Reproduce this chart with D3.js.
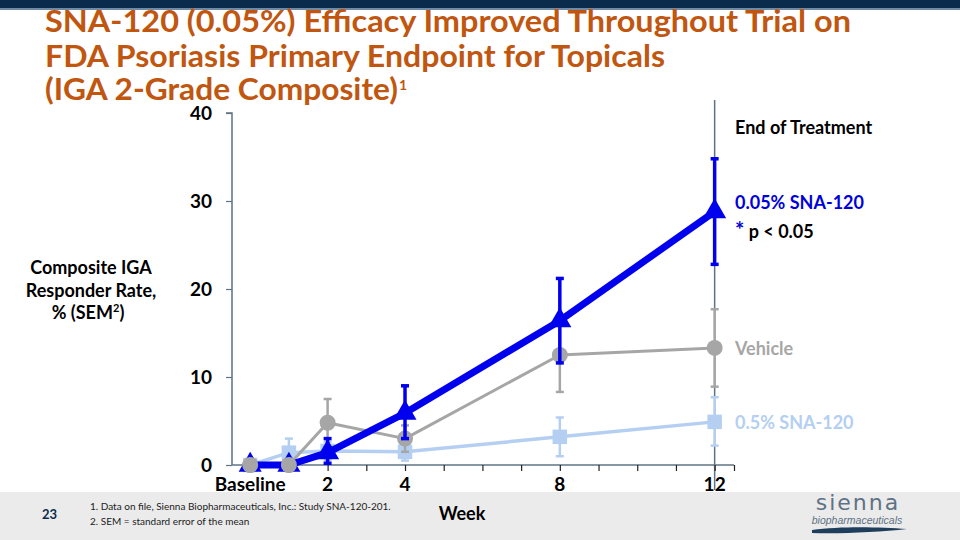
<!DOCTYPE html>
<html><head><meta charset="utf-8">
<script src="https://cdn.jsdelivr.net/npm/d3@7"></script>
<style>body{margin:0;background:#fff}svg{display:block}</style>
</head><body>
<svg id="c" width="960" height="540"></svg>
<script>
const weeks = [0, 1, 2, 4, 8, 12];
const xTickLabels = [{w:0,t:"Baseline"},{w:2,t:"2"},{w:4,t:"4"},{w:8,t:"8"},{w:12,t:"12"}];
const yTicks = [0, 10, 20, 30, 40];
const sna005 = [0, 0, 1.4, 5.9, 16.4, 28.8];
const sna005Hi = [0, 0, 3.0, 9.0, 21.2, 34.8];
const sna005Lo = [0, 0, 0.2, 3.0, 11.6, 22.8];
const vehicle = [0, 0, 4.8, 3.0, 12.5, 13.3];
const vehicleHi = [0, 0, 7.5, 4.5, 16.7, 17.7];
const vehicleLo = [0, 0, 2.1, 1.5, 8.3, 8.9];
const sna05 = [0, 1.4, 1.6, 1.5, 3.2, 4.9];
const sna05Hi = [0, 3.0, 2.6, 2.5, 5.4, 7.7];
const sna05Lo = [0, 0, 0.6, 0.5, 1.0, 2.2];

const svg = d3.select("#c");
const F = "'Lato','Open Sans',sans-serif";

svg.append("rect").attr("x",0).attr("y",0).attr("width",960).attr("height",8).attr("fill","#0b2b4c");
svg.append("rect").attr("x",0).attr("y",8).attr("width",960).attr("height",2).attr("fill","#6f8aa5");
svg.append("rect").attr("x",0).attr("y",492).attr("width",960).attr("height",48).attr("fill","#ebebeb");

const titleLines = [
  {t:"SNA-120 (0.05%) Efficacy Improved Throughout Trial on", y:32, w:806},
  {t:"FDA Psoriasis Primary Endpoint for Topicals", y:67, w:620},
  {t:"(IGA 2-Grade Composite)", y:100, w:353}
];
titleLines.forEach(l=>{
  svg.append("text").attr("x",45).attr("y",l.y).attr("font-family",F).attr("font-weight",700)
    .attr("font-size",30).attr("fill","#c0560f").attr("textLength",l.w).attr("lengthAdjust","spacingAndGlyphs").text(l.t);
});
svg.append("text").attr("x",399).attr("y",90).attr("font-family",F).attr("font-weight",700)
  .attr("font-size",14).attr("fill","#c0560f").text("1");

const x = d3.scaleLinear().domain([-0.47, 12.5]).range([232, 734]);
const y = d3.scaleLinear().domain([0, 40]).range([465, 113]);
const axisCol = "#5f7385";

svg.append("line").attr("x1",x(12)).attr("x2",x(12)).attr("y1",100).attr("y2",490)
  .attr("stroke",axisCol).attr("stroke-width",1.5);

const ya = svg.append("g").attr("transform","translate(232,0)")
  .call(d3.axisLeft(y).tickValues(yTicks).tickSize(6).tickPadding(14));
ya.select(".domain").attr("stroke",axisCol).attr("stroke-width",1.5).attr("d","M-6,113H0V465");
ya.selectAll(".tick line").attr("stroke",axisCol).attr("stroke-width",1.2);
ya.selectAll(".tick text").attr("font-family",F).attr("font-weight",700).attr("font-size",19).attr("fill","#000");

const xa = svg.append("g").attr("transform","translate(0,465)")
  .call(d3.axisBottom(x).tickValues(d3.range(0,13).concat([12.5])).tickSize(6).tickFormat(""));
xa.select(".domain").attr("stroke",axisCol).attr("stroke-width",1.5).attr("d","M232,0H734");
xa.selectAll(".tick line").attr("stroke","#222").attr("stroke-width",1.2);
svg.append("g").selectAll("text").data(xTickLabels).join("text")
  .attr("x",d=>x(d.w)).attr("y",491).attr("text-anchor","middle")
  .attr("font-family",F).attr("font-weight",700).attr("font-size",19).attr("fill","#000").text(d=>d.t);

const yl = svg.append("text").attr("font-family",F).attr("font-weight",700).attr("font-size",18).attr("fill","#000").attr("text-anchor","middle");
yl.append("tspan").attr("x",91).attr("y",274).text("Composite IGA");
yl.append("tspan").attr("x",91).attr("y",297).text("Responder Rate,");
const t3 = yl.append("tspan").attr("x",88).attr("y",319);
t3.text("% (SEM");
yl.append("tspan").attr("dy",-7).attr("font-size",11).text("2");
yl.append("tspan").attr("dy",7).text(")");

const series = [
  {v:vehicle, hi:vehicleHi, lo:vehicleLo, col:"#a6a6a6", lw:3, ew:2.5, m:"circle"},
  {v:sna05, hi:sna05Hi, lo:sna05Lo, col:"#b4cff1", lw:3.5, ew:2.5, m:"square"},
  {v:sna005, hi:sna005Hi, lo:sna005Lo, col:"#0000ee", lw:7, ew:3.5, m:"triangle"}
];
const order = [series[1], series[0], series[2]];
order.forEach(s=>{
  const g = svg.append("g");
  weeks.forEach((w,i)=>{
    if (s.hi[i]===s.lo[i]) return;
    g.append("line").attr("x1",x(w)).attr("x2",x(w)).attr("y1",y(s.hi[i])).attr("y2",y(s.lo[i]))
      .attr("stroke",s.col).attr("stroke-width",s.ew);
    [s.hi[i], s.lo[i]].forEach(v=>{
      g.append("line").attr("x1",x(w)-4).attr("x2",x(w)+4).attr("y1",y(v)).attr("y2",y(v))
        .attr("stroke",s.col).attr("stroke-width",s.ew);
    });
  });
  g.append("path").datum(weeks.map((w,i)=>[w,s.v[i]]))
    .attr("d",d3.line().x(d=>x(d[0])).y(d=>y(d[1])))
    .attr("fill","none").attr("stroke",s.col).attr("stroke-width",s.lw).attr("stroke-linejoin","round");
  const sym = s.m==="circle"?d3.symbolCircle:s.m==="square"?d3.symbolSquare:d3.symbolTriangle;
  const size = s.m==="circle"?200:s.m==="square"?210:230;
  g.selectAll("path.m").data(weeks.map((w,i)=>[w,s.v[i]])).join("path").attr("class","m")
    .attr("transform",d=>`translate(${x(d[0])},${y(d[1])})`)
    .attr("d",d3.symbol().type(sym).size(size)).attr("fill",s.col);
});
svg.append("g").selectAll("circle").data([0,1]).join("circle")
  .attr("cx",d=>x(weeks[d])).attr("cy",d=>y(vehicle[d])).attr("r",8).attr("fill","#a6a6a6");

const ann = (t,xx,yy,col,size)=>svg.append("text").attr("x",xx).attr("y",yy).attr("font-family",F)
  .attr("font-weight",700).attr("font-size",size).attr("fill",col).text(t);
ann("End of Treatment",735,134,"#000",18);
ann("0.05% SNA-120",735,209,"#0000dd",18);
const p = svg.append("text").attr("x",735).attr("y",238).attr("font-family",F).attr("font-weight",700).attr("font-size",18);
p.append("tspan").attr("fill","#0000dd").attr("font-size",22).text("*");
p.append("tspan").attr("fill","#000").text(" p < 0.05");
ann("Vehicle",735,355,"#a6a6a6",18);
ann("0.5% SNA-120",735,429,"#b4cff1",18);

ann("Week",462,520,"#000",18).attr("text-anchor","middle");
ann("23",42,519,"#0b2b4c",13);
const fn = [{t:"1.   Data on file, Sienna Biopharmaceuticals, Inc.: Study SNA-120-201.",y:510},{t:"2.   SEM = standard error of the mean",y:525}];
fn.forEach(f=>svg.append("text").attr("x",90).attr("y",f.y).attr("font-family",F).attr("font-size",10).attr("fill","#222").text(f.t));

svg.append("text").attr("x",858).attr("y",510).attr("text-anchor","middle").attr("font-family","'DejaVu Sans',sans-serif")
  .attr("font-size",22).attr("letter-spacing",2).attr("fill","#5d7284").text("sienna");
svg.append("text").attr("x",857).attr("y",524).attr("text-anchor","middle").attr("font-family","'Liberation Sans',sans-serif")
  .attr("font-style","italic").attr("font-size",10.5).attr("fill","#5d7284").text("biopharmaceuticals");
svg.append("path").attr("d","M812,530 C840,526 880,527 907,529 C880,532 840,534 812,533 Z").attr("fill","#1f3e5c");
</script>
</body></html>
